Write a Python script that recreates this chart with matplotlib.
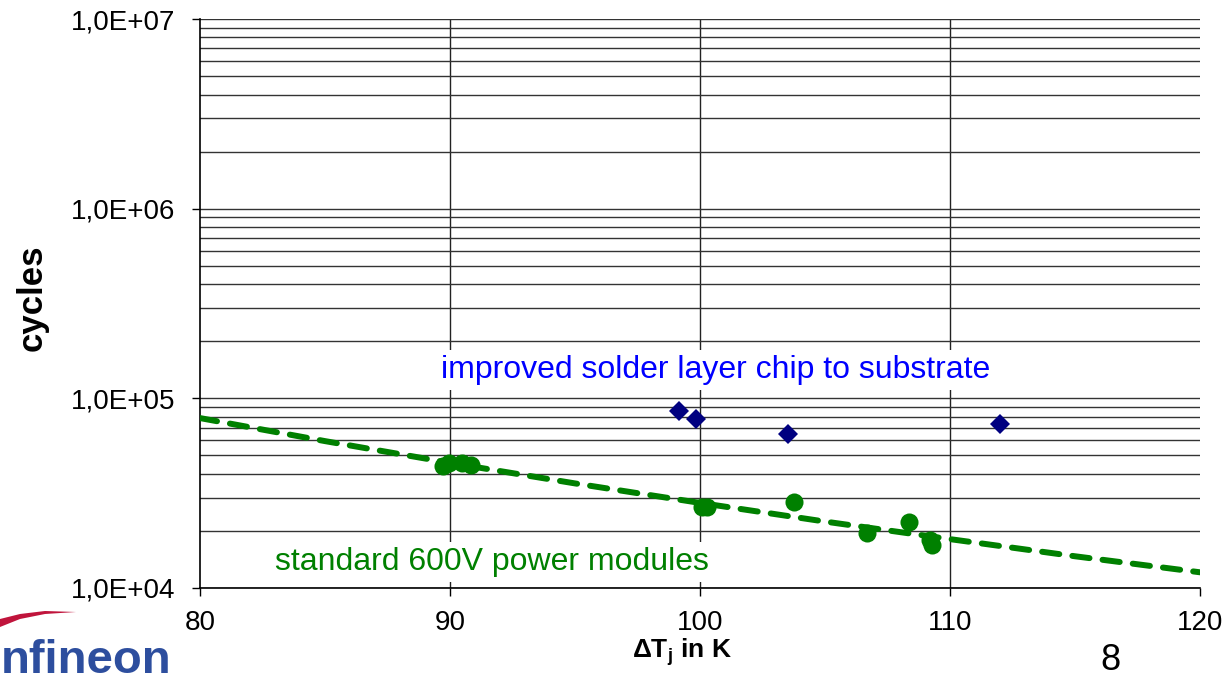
import math
import matplotlib
matplotlib.use('Agg')
import matplotlib.pyplot as plt
from matplotlib.ticker import FixedLocator, FuncFormatter, LogLocator, NullFormatter
from matplotlib.patches import Polygon

plt.rcParams['font.family'] = ['Liberation Sans', 'DejaVu Sans']
plt.rcParams['mathtext.fontset'] = 'custom'
plt.rcParams['mathtext.rm'] = 'Liberation Sans'
plt.rcParams['mathtext.bf'] = 'Liberation Sans:bold'

# values
improved_dt = [99.16, 99.84, 103.52, 112.0]
improved_cycles = [85700, 77800, 64900, 73300]

standard_dt = [89.72, 89.96, 90.48, 90.84, 100.1, 100.3, 103.76, 106.68, 108.36, 109.2, 109.3]
standard_cycles = [44000, 45600, 45600, 44600, 26700, 26700, 28400, 19500, 22300, 17900, 16800]

# trend line (power fit) read at a few points
fit_dt = [80, 85, 90, 95, 100, 105, 110, 115, 120]
fit_cycles = [78700, 59500, 45700, 35600, 28100, 22400, 18100, 14700, 12100]

x_ticks = [80, 90, 100, 110, 120]
y_ticks = [1e4, 1e5, 1e6, 1e7]

fig = plt.figure(figsize=(12.29, 6.92), dpi=100)
ax = fig.add_axes([0.1627, 0.1503, 0.8137, 0.8222])

ax.set_yscale('log')
ax.set_xlim(80, 120)
ax.set_ylim(1e4, 1e7)

ax.yaxis.set_major_locator(FixedLocator(y_ticks))
ax.yaxis.set_minor_locator(LogLocator(base=10, subs=range(2, 10)))
ax.yaxis.set_minor_formatter(NullFormatter())
ax.yaxis.set_major_formatter(FuncFormatter(lambda v, p: '1,0E+%02d' % round(math.log10(v))))
ax.xaxis.set_major_locator(FixedLocator(x_ticks))

ax.grid(axis='y', which='both', color='#333333', lw=1.0)
ax.grid(axis='x', which='major', color='#222222', lw=1.0)
gl = ax.xaxis.get_gridlines()
gl[0].set_visible(False)
gl[-1].set_visible(False)

ax.tick_params(axis='both', which='major', direction='out', length=6, width=1, labelsize=20, color='black')
ax.tick_params(axis='y', which='major', pad=12)
ax.tick_params(axis='x', which='major', pad=10)
ax.tick_params(axis='y', which='minor', length=0)

for s in ['top', 'right']:
    ax.spines[s].set_visible(False)
for s in ['left', 'bottom']:
    ax.spines[s].set_color('black')
    ax.spines[s].set_linewidth(1.2)

ax.plot(fit_dt, fit_cycles, color='#008000', lw=4.3, linestyle=(0, (2.9, 2.2)),
        dash_capstyle='round', zorder=3)
ax.plot(standard_dt, standard_cycles, 'o', color='#008000', markersize=13,
        markeredgewidth=0, zorder=4)
ax.plot(improved_dt, improved_cycles, 'D', color='#000080', markersize=10,
        markeredgewidth=0, zorder=4)

ax.text(100.64, 1.41e5, 'improved solder layer chip to substrate', color='#0000FF',
        fontsize=23, ha='center', va='center', zorder=5,
        bbox=dict(facecolor='white', edgecolor='none', pad=4))
ax.text(91.68, 1.37e4, 'standard 600V power modules', color='#008000',
        fontsize=23, ha='center', va='center', zorder=5,
        bbox=dict(facecolor='white', edgecolor='none', pad=4))

fig.text(32 / 1229, 1 - 298 / 692, 'cycles', rotation=90, fontsize=25,
         fontweight='bold', ha='center', va='center')
fig.text(682 / 1229, 1 - 652 / 692, r'ΔT$_{\mathbf{j}}$ in K', fontsize=19,
         fontweight='bold', ha='center', va='center')
fig.text(1100 / 1229, 1 - 660 / 692, '8', fontsize=26, ha='left', va='center')

# logo (left part is cut off by the slide edge in the source)
fig.text(1 / 1229, 1 - 673 / 692, 'nfineon', fontsize=34, fontweight='bold',
         color='#2D4E9E', ha='left', va='baseline')
swoosh = Polygon([[0, 1 - 619 / 692], [20 / 1229, 1 - 614 / 692], [45 / 1229, 1 - 611 / 692],
                  [76 / 1229, 1 - 612 / 692], [45 / 1229, 1 - 614 / 692],
                  [20 / 1229, 1 - 619 / 692], [0, 1 - 627 / 692]],
                 closed=True, transform=fig.transFigure, facecolor='#C0143C', edgecolor='none')
fig.patches.append(swoosh)

fig.savefig('out.png', dpi=100)
